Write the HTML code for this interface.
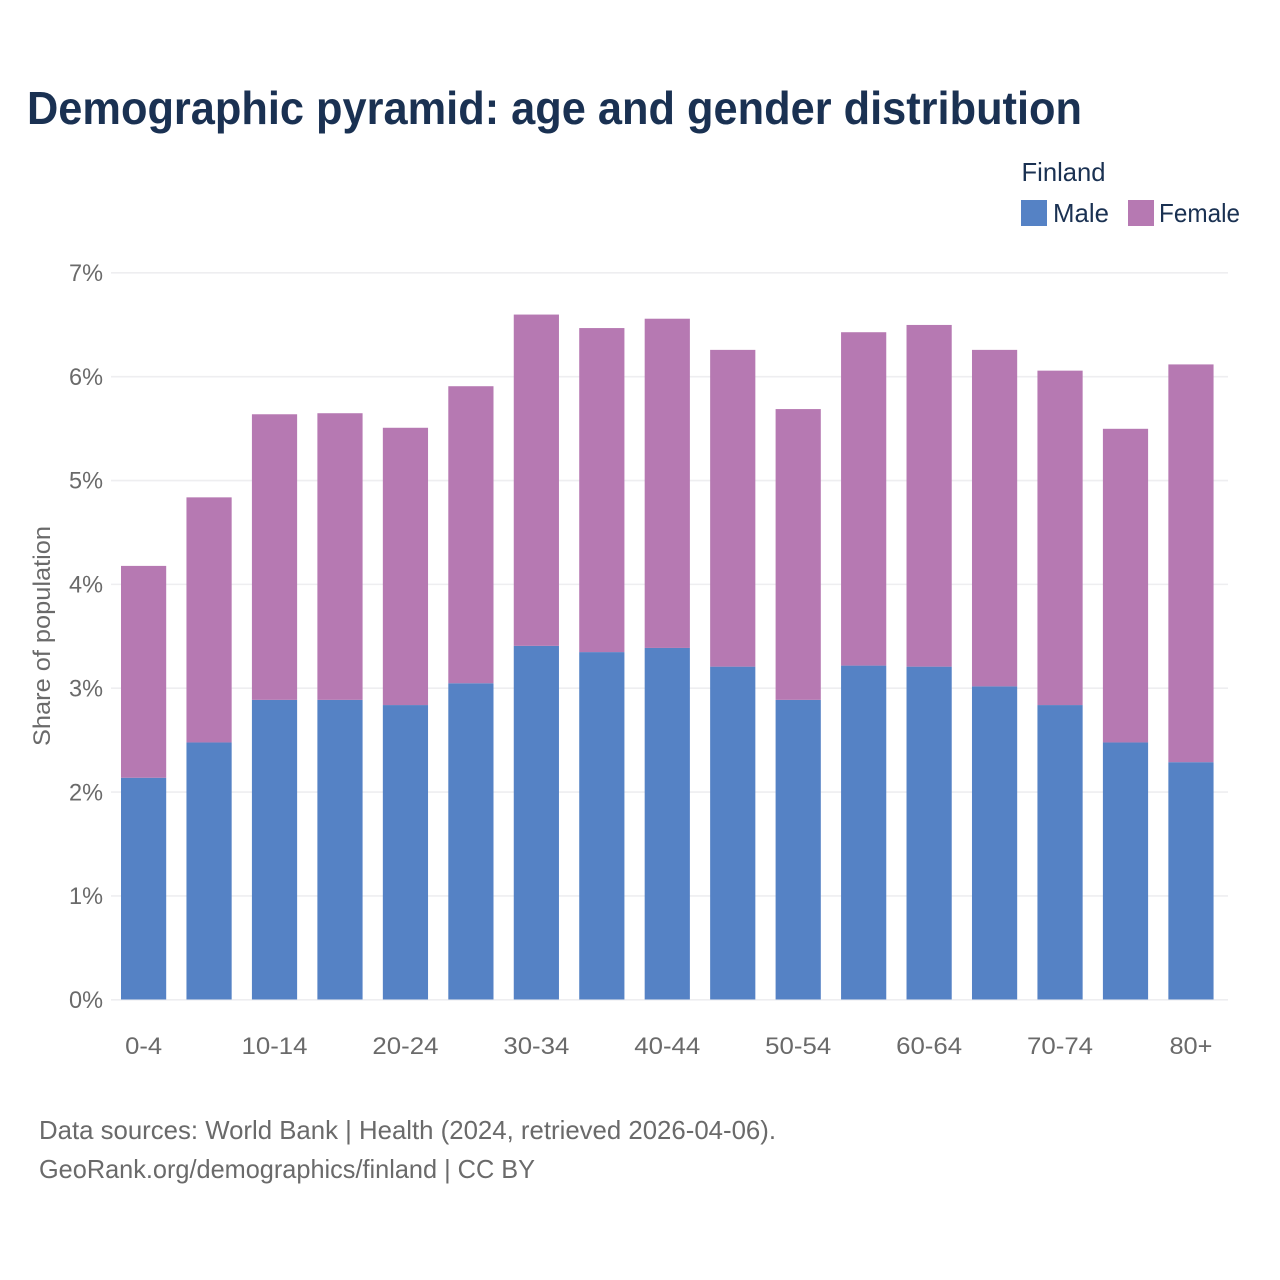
<!DOCTYPE html>
<html lang="en">
<head>
<meta charset="utf-8">
<title>Demographic pyramid: age and gender distribution</title>
<style>
html,body{margin:0;padding:0;background:#fff;width:1280px;height:1280px;overflow:hidden}
svg{display:block}
text{font-family:"Liberation Sans",sans-serif}
</style>
</head>
<body>
<svg id="chart" width="1280" height="1280" viewBox="0 0 1280 1280" xmlns="http://www.w3.org/2000/svg">
  <rect width="1280" height="1280" fill="#ffffff"/>
  <text x="27" y="124" font-size="46" font-weight="700" fill="#1a3152" textLength="1055" lengthAdjust="spacingAndGlyphs">Demographic pyramid: age and gender distribution</text>
  <text x="1021.500" y="181" font-size="26" fill="#1a3152" textLength="84" lengthAdjust="spacingAndGlyphs">Finland</text>
  <rect x="1021" y="200" width="26" height="26" fill="#5582c5"/>
  <text x="1053" y="222" font-size="26" fill="#1a3152" textLength="56" lengthAdjust="spacingAndGlyphs">Male</text>
  <rect x="1128" y="200" width="26" height="26" fill="#b679b2"/>
  <text x="1159" y="222" font-size="26" fill="#1a3152" textLength="81" lengthAdjust="spacingAndGlyphs">Female</text>
  <g id="grid"></g>
  <g id="bars"></g>
  <g id="y-axis"></g>
  <g id="x-axis"></g>
  <text transform="translate(50,636) rotate(-90)" text-anchor="middle" font-size="24" fill="#6a6a6a" textLength="220" lengthAdjust="spacingAndGlyphs">Share of population</text>
  <text x="39" y="1139" font-size="26" fill="#6a6a6a" textLength="737" lengthAdjust="spacingAndGlyphs">Data sources: World Bank | Health (2024, retrieved 2026-04-06).</text>
  <text x="39" y="1178" font-size="26" fill="#6a6a6a" textLength="496" lengthAdjust="spacingAndGlyphs">GeoRank.org/demographics/finland | CC BY</text>
</svg>
<script>
const categories = ['0-4','5-9','10-14','15-19','20-24','25-29','30-34','35-39','40-44','45-49','50-54','55-59','60-64','65-69','70-74','75-79','80+'];
const xTickLabels = ['0-4','','10-14','','20-24','','30-34','','40-44','','50-54','','60-64','','70-74','','80+'];
const maleValues = [2.135,2.475,2.885,2.885,2.835,3.045,3.405,3.345,3.385,3.205,2.885,3.215,3.205,3.015,2.835,2.475,2.285];
const femaleValues = [2.04,2.36,2.75,2.76,2.67,2.86,3.19,3.12,3.17,3.05,2.80,3.21,3.29,3.24,3.22,3.02,3.83];
const yTickValues = [0,1,2,3,4,5,6,7];

const NS = 'http://www.w3.org/2000/svg';
const plotLeft = 111, plotRight = 1228, yZero = 999.5, yTop = 272.5, yMax = 7;
const barWidth = 45.2;
function yScale(v) { return yZero - (v / yMax) * (yZero - yTop); }
function xCenter(i) { return 143.6 + i * 65.46; }

const grid = document.getElementById('grid');
const yAxis = document.getElementById('y-axis');
const xAxis = document.getElementById('x-axis');
const bars = document.getElementById('bars');

yTickValues.forEach(function (v) {
  const line = document.createElementNS(NS, 'line');
  
  
  line.setAttribute('x1', plotLeft);
  line.setAttribute('x2', plotRight);
  line.setAttribute('y1', yScale(v) + 0.3);
  line.setAttribute('y2', yScale(v) + 0.3);
  line.setAttribute('stroke', '#eeeef0');
  line.setAttribute('stroke-width', '1.6');
  grid.appendChild(line);

  const label = document.createElementNS(NS, 'text');
  
  
  label.setAttribute('x', 103);
  label.setAttribute('y', yScale(v) + 8.5);
  label.setAttribute('text-anchor', 'end');
  label.setAttribute('font-size', '24.5');
  label.setAttribute('fill', '#6a6a6a');
  label.setAttribute('textLength', '34');
  label.setAttribute('lengthAdjust', 'spacingAndGlyphs');
  label.textContent = v + '%';
  yAxis.appendChild(label);
});

categories.forEach(function (c, i) {
  const x = xCenter(i) - barWidth / 2;
  const maleTop = yScale(maleValues[i]);
  const totalTop = yScale(maleValues[i] + femaleValues[i]);

  const male = document.createElementNS(NS, 'rect');
  
  
  male.setAttribute('x', x);
  male.setAttribute('y', maleTop);
  male.setAttribute('width', barWidth);
  male.setAttribute('height', yZero - maleTop);
  male.setAttribute('fill', '#5582c5');
  bars.appendChild(male);

  const female = document.createElementNS(NS, 'rect');
  
  
  female.setAttribute('x', x);
  female.setAttribute('y', totalTop);
  female.setAttribute('width', barWidth);
  female.setAttribute('height', maleTop - totalTop);
  female.setAttribute('fill', '#b679b2');
  bars.appendChild(female);

  if (xTickLabels[i]) {
    const label = document.createElementNS(NS, 'text');
    
    
    label.setAttribute('x', xCenter(i));
    label.setAttribute('y', 1054);
    label.setAttribute('text-anchor', 'middle');
    label.setAttribute('font-size', '24.5');
    label.setAttribute('fill', '#6a6a6a');
    label.setAttribute('textLength', i === 0 ? '37' : (i === 16 ? '43' : '66'));
    label.setAttribute('lengthAdjust', 'spacingAndGlyphs');
    label.textContent = xTickLabels[i];
    xAxis.appendChild(label);
  }
});
</script>
</body>
</html>
